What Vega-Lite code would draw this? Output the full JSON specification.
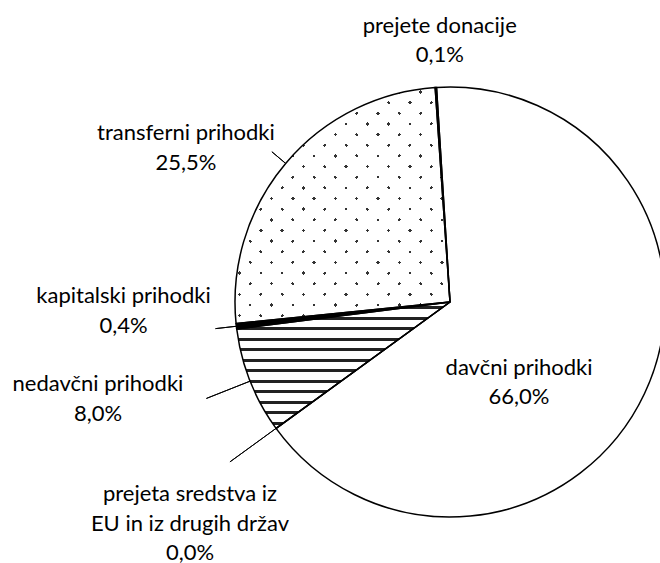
{
  "$schema": "https://vega.github.io/schema/vega-lite/v6.json",
  "width": 900,
  "height": 604,
  "autosize": "none",
  "padding": {"left": 0, "top": 0, "right": -240, "bottom": -41},
  "background": "white",
  "config": {"view": {"stroke": null}},
  "data": {
    "values": [
      {"cat": "davčni prihodki", "pct": 66.0, "o": 1},
      {"cat": "prejeta sredstva iz\nEU in iz drugih držav", "pct": 0.0, "o": 2},
      {"cat": "nedavčni prihodki", "pct": 8.0, "o": 3},
      {"cat": "kapitalski prihodki", "pct": 0.4, "o": 4},
      {"cat": "transferni prihodki", "pct": 25.5, "o": 5},
      {"cat": "prejete donacije", "pct": 0.1, "o": 6}
    ]
  },
  "transform": [
    {"stack": "pct", "groupby": [], "sort": [{"field": "o", "order": "ascending"}], "as": ["t0", "t1"]},
    {"calculate": "(datum.t0 + datum.t1) / 2", "as": "mid"},
    {"calculate": "datum.cat + '\\n' + replace(format(datum.pct, '.1f'), '.', ',') + '%'", "as": "label"}
  ],
  "layer": [
    {
      "mark": {"type": "arc", "outerRadius": 215, "stroke": null},
      "encoding": {
        "theta": {"field": "t0", "type": "quantitative", "stack": null, "scale": {"domain": [0, 100], "range": [-0.06283, 6.22035]}},
        "theta2": {"field": "t1"},
        "fill": {"condition": {"test": "datum.o == 4 || datum.o == 6", "value": "black"}, "value": "white"}
      }
    },
    {
      "transform": [{"filter": "datum.o == 3"}],
      "mark": {
        "type": "arc", "outerRadius": 215, "stroke": null,
        "fill": {"gradient": "linear", "x1": 0, "y1": 0, "x2": 0, "y2": 1, "stops": [
          {"offset": 0, "color": "white"},
          {"offset": 0.0336, "color": "white"}, {"offset": 0.0336, "color": "#222"}, {"offset": 0.0566, "color": "#222"}, {"offset": 0.0566, "color": "white"},
          {"offset": 0.1167, "color": "white"}, {"offset": 0.1167, "color": "#222"}, {"offset": 0.1397, "color": "#222"}, {"offset": 0.1397, "color": "white"},
          {"offset": 0.1997, "color": "white"}, {"offset": 0.1997, "color": "#222"}, {"offset": 0.2227, "color": "#222"}, {"offset": 0.2227, "color": "white"},
          {"offset": 0.2828, "color": "white"}, {"offset": 0.2828, "color": "#222"}, {"offset": 0.3058, "color": "#222"}, {"offset": 0.3058, "color": "white"},
          {"offset": 0.3659, "color": "white"}, {"offset": 0.3659, "color": "#222"}, {"offset": 0.3889, "color": "#222"}, {"offset": 0.3889, "color": "white"},
          {"offset": 0.4489, "color": "white"}, {"offset": 0.4489, "color": "#222"}, {"offset": 0.4719, "color": "#222"}, {"offset": 0.4719, "color": "white"},
          {"offset": 0.5320, "color": "white"}, {"offset": 0.5320, "color": "#222"}, {"offset": 0.5550, "color": "#222"}, {"offset": 0.5550, "color": "white"},
          {"offset": 0.6151, "color": "white"}, {"offset": 0.6151, "color": "#222"}, {"offset": 0.6381, "color": "#222"}, {"offset": 0.6381, "color": "white"},
          {"offset": 0.6982, "color": "white"}, {"offset": 0.6982, "color": "#222"}, {"offset": 0.7212, "color": "#222"}, {"offset": 0.7212, "color": "white"},
          {"offset": 0.7812, "color": "white"}, {"offset": 0.7812, "color": "#222"}, {"offset": 0.8042, "color": "#222"}, {"offset": 0.8042, "color": "white"},
          {"offset": 0.8643, "color": "white"}, {"offset": 0.8643, "color": "#222"}, {"offset": 0.8873, "color": "#222"}, {"offset": 0.8873, "color": "white"},
          {"offset": 0.9474, "color": "white"}, {"offset": 0.9474, "color": "#222"}, {"offset": 0.9704, "color": "#222"}, {"offset": 0.9704, "color": "white"},
          {"offset": 1, "color": "white"}
        ]}
      },
      "encoding": {
        "theta": {"field": "t0", "type": "quantitative", "stack": null},
        "theta2": {"field": "t1"}
      }
    },
    {
      "transform": [{"filter": "datum.o == 5"}],
      "mark": {
        "type": "arc", "outerRadius": 215, "stroke": null,
        "fill": {"gradient": "linear", "x1": 0, "y1": 0, "x2": 0.9512, "y2": 1.0445, "stops": [
          {"offset": 0, "color": "white"},
          {"offset": 0.0399, "color": "white"}, {"offset": 0.0399, "color": "#333"}, {"offset": 0.0475, "color": "#333"}, {"offset": 0.0475, "color": "white"},
          {"offset": 0.0871, "color": "white"}, {"offset": 0.0871, "color": "#333"}, {"offset": 0.0947, "color": "#333"}, {"offset": 0.0947, "color": "white"},
          {"offset": 0.1343, "color": "white"}, {"offset": 0.1343, "color": "#333"}, {"offset": 0.1419, "color": "#333"}, {"offset": 0.1419, "color": "white"},
          {"offset": 0.1815, "color": "white"}, {"offset": 0.1815, "color": "#333"}, {"offset": 0.1891, "color": "#333"}, {"offset": 0.1891, "color": "white"},
          {"offset": 0.2287, "color": "white"}, {"offset": 0.2287, "color": "#333"}, {"offset": 0.2363, "color": "#333"}, {"offset": 0.2363, "color": "white"},
          {"offset": 0.2759, "color": "white"}, {"offset": 0.2759, "color": "#333"}, {"offset": 0.2835, "color": "#333"}, {"offset": 0.2835, "color": "white"},
          {"offset": 0.3232, "color": "white"}, {"offset": 0.3232, "color": "#333"}, {"offset": 0.3308, "color": "#333"}, {"offset": 0.3308, "color": "white"},
          {"offset": 0.3704, "color": "white"}, {"offset": 0.3704, "color": "#333"}, {"offset": 0.3780, "color": "#333"}, {"offset": 0.3780, "color": "white"},
          {"offset": 0.4176, "color": "white"}, {"offset": 0.4176, "color": "#333"}, {"offset": 0.4252, "color": "#333"}, {"offset": 0.4252, "color": "white"},
          {"offset": 0.4648, "color": "white"}, {"offset": 0.4648, "color": "#333"}, {"offset": 0.4724, "color": "#333"}, {"offset": 0.4724, "color": "white"},
          {"offset": 0.5121, "color": "white"}, {"offset": 0.5121, "color": "#333"}, {"offset": 0.5197, "color": "#333"}, {"offset": 0.5197, "color": "white"},
          {"offset": 0.5593, "color": "white"}, {"offset": 0.5593, "color": "#333"}, {"offset": 0.5669, "color": "#333"}, {"offset": 0.5669, "color": "white"},
          {"offset": 0.6065, "color": "white"}, {"offset": 0.6065, "color": "#333"}, {"offset": 0.6141, "color": "#333"}, {"offset": 0.6141, "color": "white"},
          {"offset": 0.6537, "color": "white"}, {"offset": 0.6537, "color": "#333"}, {"offset": 0.6613, "color": "#333"}, {"offset": 0.6613, "color": "white"},
          {"offset": 0.7010, "color": "white"}, {"offset": 0.7010, "color": "#333"}, {"offset": 0.7086, "color": "#333"}, {"offset": 0.7086, "color": "white"},
          {"offset": 0.7482, "color": "white"}, {"offset": 0.7482, "color": "#333"}, {"offset": 0.7558, "color": "#333"}, {"offset": 0.7558, "color": "white"},
          {"offset": 0.7954, "color": "white"}, {"offset": 0.7954, "color": "#333"}, {"offset": 0.8030, "color": "#333"}, {"offset": 0.8030, "color": "white"},
          {"offset": 0.8426, "color": "white"}, {"offset": 0.8426, "color": "#333"}, {"offset": 0.8502, "color": "#333"}, {"offset": 0.8502, "color": "white"},
          {"offset": 0.8899, "color": "white"}, {"offset": 0.8899, "color": "#333"}, {"offset": 0.8975, "color": "#333"}, {"offset": 0.8975, "color": "white"},
          {"offset": 0.9371, "color": "white"}, {"offset": 0.9371, "color": "#333"}, {"offset": 0.9447, "color": "#333"}, {"offset": 0.9447, "color": "white"},
          {"offset": 0.9843, "color": "white"}, {"offset": 0.9843, "color": "#333"}, {"offset": 0.9919, "color": "#333"}, {"offset": 0.9919, "color": "white"},
          {"offset": 1, "color": "white"}
        ]}
      },
      "encoding": {
        "theta": {"field": "t0", "type": "quantitative", "stack": null},
        "theta2": {"field": "t1"}
      }
    },
    {
      "transform": [{"filter": "datum.o == 5"}],
      "mark": {
        "type": "arc", "outerRadius": 215, "stroke": null,
        "fill": {"gradient": "linear", "x1": 0, "y1": 1, "x2": 0.9512, "y2": -0.0445, "stops": [
          {"offset": 0, "color": "white"},
          {"offset": 0.0239, "color": "white"}, {"offset": 0.0239, "color": "rgba(255,255,255,0)"}, {"offset": 0.0315, "color": "rgba(255,255,255,0)"}, {"offset": 0.0315, "color": "white"},
          {"offset": 0.0711, "color": "white"}, {"offset": 0.0711, "color": "rgba(255,255,255,0)"}, {"offset": 0.0787, "color": "rgba(255,255,255,0)"}, {"offset": 0.0787, "color": "white"},
          {"offset": 0.1183, "color": "white"}, {"offset": 0.1183, "color": "rgba(255,255,255,0)"}, {"offset": 0.1259, "color": "rgba(255,255,255,0)"}, {"offset": 0.1259, "color": "white"},
          {"offset": 0.1655, "color": "white"}, {"offset": 0.1655, "color": "rgba(255,255,255,0)"}, {"offset": 0.1731, "color": "rgba(255,255,255,0)"}, {"offset": 0.1731, "color": "white"},
          {"offset": 0.2128, "color": "white"}, {"offset": 0.2128, "color": "rgba(255,255,255,0)"}, {"offset": 0.2204, "color": "rgba(255,255,255,0)"}, {"offset": 0.2204, "color": "white"},
          {"offset": 0.2600, "color": "white"}, {"offset": 0.2600, "color": "rgba(255,255,255,0)"}, {"offset": 0.2676, "color": "rgba(255,255,255,0)"}, {"offset": 0.2676, "color": "white"},
          {"offset": 0.3072, "color": "white"}, {"offset": 0.3072, "color": "rgba(255,255,255,0)"}, {"offset": 0.3148, "color": "rgba(255,255,255,0)"}, {"offset": 0.3148, "color": "white"},
          {"offset": 0.3544, "color": "white"}, {"offset": 0.3544, "color": "rgba(255,255,255,0)"}, {"offset": 0.3620, "color": "rgba(255,255,255,0)"}, {"offset": 0.3620, "color": "white"},
          {"offset": 0.4017, "color": "white"}, {"offset": 0.4017, "color": "rgba(255,255,255,0)"}, {"offset": 0.4093, "color": "rgba(255,255,255,0)"}, {"offset": 0.4093, "color": "white"},
          {"offset": 0.4489, "color": "white"}, {"offset": 0.4489, "color": "rgba(255,255,255,0)"}, {"offset": 0.4565, "color": "rgba(255,255,255,0)"}, {"offset": 0.4565, "color": "white"},
          {"offset": 0.4961, "color": "white"}, {"offset": 0.4961, "color": "rgba(255,255,255,0)"}, {"offset": 0.5037, "color": "rgba(255,255,255,0)"}, {"offset": 0.5037, "color": "white"},
          {"offset": 0.5433, "color": "white"}, {"offset": 0.5433, "color": "rgba(255,255,255,0)"}, {"offset": 0.5509, "color": "rgba(255,255,255,0)"}, {"offset": 0.5509, "color": "white"},
          {"offset": 0.5905, "color": "white"}, {"offset": 0.5905, "color": "rgba(255,255,255,0)"}, {"offset": 0.5981, "color": "rgba(255,255,255,0)"}, {"offset": 0.5981, "color": "white"},
          {"offset": 0.6378, "color": "white"}, {"offset": 0.6378, "color": "rgba(255,255,255,0)"}, {"offset": 0.6454, "color": "rgba(255,255,255,0)"}, {"offset": 0.6454, "color": "white"},
          {"offset": 0.6850, "color": "white"}, {"offset": 0.6850, "color": "rgba(255,255,255,0)"}, {"offset": 0.6926, "color": "rgba(255,255,255,0)"}, {"offset": 0.6926, "color": "white"},
          {"offset": 0.7322, "color": "white"}, {"offset": 0.7322, "color": "rgba(255,255,255,0)"}, {"offset": 0.7398, "color": "rgba(255,255,255,0)"}, {"offset": 0.7398, "color": "white"},
          {"offset": 0.7794, "color": "white"}, {"offset": 0.7794, "color": "rgba(255,255,255,0)"}, {"offset": 0.7870, "color": "rgba(255,255,255,0)"}, {"offset": 0.7870, "color": "white"},
          {"offset": 0.8267, "color": "white"}, {"offset": 0.8267, "color": "rgba(255,255,255,0)"}, {"offset": 0.8343, "color": "rgba(255,255,255,0)"}, {"offset": 0.8343, "color": "white"},
          {"offset": 0.8739, "color": "white"}, {"offset": 0.8739, "color": "rgba(255,255,255,0)"}, {"offset": 0.8815, "color": "rgba(255,255,255,0)"}, {"offset": 0.8815, "color": "white"},
          {"offset": 0.9211, "color": "white"}, {"offset": 0.9211, "color": "rgba(255,255,255,0)"}, {"offset": 0.9287, "color": "rgba(255,255,255,0)"}, {"offset": 0.9287, "color": "white"},
          {"offset": 0.9683, "color": "white"}, {"offset": 0.9683, "color": "rgba(255,255,255,0)"}, {"offset": 0.9759, "color": "rgba(255,255,255,0)"}, {"offset": 0.9759, "color": "white"},
          {"offset": 1, "color": "white"}
        ]}
      },
      "encoding": {
        "theta": {"field": "t0", "type": "quantitative", "stack": null},
        "theta2": {"field": "t1"}
      }
    },
    {
      "mark": {"type": "arc", "outerRadius": 215, "fill": "transparent", "stroke": "black", "strokeWidth": 1.5, "strokeJoin": "miter"},
      "encoding": {
        "theta": {"field": "t0", "type": "quantitative", "stack": null},
        "theta2": {"field": "t1"}
      }
    },
    {
      "transform": [{"filter": "datum.o == 5"}],
      "mark": {"type": "arc", "innerRadius": 215, "outerRadius": 233, "fill": "transparent", "stroke": "black", "strokeWidth": 1},
      "encoding": {"theta": {"field": "mid", "type": "quantitative", "stack": null}, "theta2": {"field": "mid"}}
    },
    {
      "transform": [{"filter": "datum.o == 4"}],
      "mark": {"type": "arc", "innerRadius": 215, "outerRadius": 236, "fill": "transparent", "stroke": "black", "strokeWidth": 1},
      "encoding": {"theta": {"field": "mid", "type": "quantitative", "stack": null}, "theta2": {"field": "mid"}}
    },
    {
      "transform": [{"filter": "datum.o == 3"}],
      "mark": {"type": "arc", "innerRadius": 215, "outerRadius": 262, "fill": "transparent", "stroke": "black", "strokeWidth": 1},
      "encoding": {"theta": {"field": "mid", "type": "quantitative", "stack": null}, "theta2": {"field": "mid"}}
    },
    {
      "transform": [{"filter": "datum.o == 2"}],
      "mark": {"type": "arc", "innerRadius": 215, "outerRadius": 272, "fill": "transparent", "stroke": "black", "strokeWidth": 1},
      "encoding": {"theta": {"field": "mid", "type": "quantitative", "stack": null}, "theta2": {"field": "mid"}}
    },
    {
      "transform": [{"filter": "datum.o == 1"}],
      "mark": {"type": "text", "radius": 110, "dx": -30.5, "dy": 19, "align": "center", "baseline": "middle", "lineBreak": "\n", "lineHeight": 29.5, "font": "Lato", "fontSize": 22, "fill": "black"},
      "encoding": {"theta": {"field": "mid", "type": "quantitative", "stack": null}, "text": {"field": "label"}}
    },
    {
      "transform": [{"filter": "datum.o == 2"}],
      "mark": {"type": "text", "radius": 260, "dx": -49.7, "dy": 39.5, "align": "center", "baseline": "middle", "lineBreak": "\n", "lineHeight": 29.2, "font": "Lato", "fontSize": 22, "fill": "black"},
      "encoding": {"theta": {"field": "mid", "type": "quantitative", "stack": null}, "text": {"field": "label"}}
    },
    {
      "transform": [{"filter": "datum.o == 3"}],
      "mark": {"type": "text", "radius": 250, "dx": -119.6, "dy": -9.75, "align": "center", "baseline": "middle", "lineBreak": "\n", "lineHeight": 29.5, "font": "Lato", "fontSize": 22, "fill": "black"},
      "encoding": {"theta": {"field": "mid", "type": "quantitative", "stack": null}, "text": {"field": "label"}}
    },
    {
      "transform": [{"filter": "datum.o == 4"}],
      "mark": {"type": "text", "radius": 240, "dx": -88, "dy": -32.75, "align": "center", "baseline": "middle", "lineBreak": "\n", "lineHeight": 29.5, "font": "Lato", "fontSize": 22, "fill": "black"},
      "encoding": {"theta": {"field": "mid", "type": "quantitative", "stack": null}, "text": {"field": "label"}}
    },
    {
      "transform": [{"filter": "datum.o == 5"}],
      "mark": {"type": "text", "radius": 240, "dx": -80.6, "dy": -13.95, "align": "center", "baseline": "middle", "lineBreak": "\n", "lineHeight": 29.5, "font": "Lato", "fontSize": 22, "fill": "black"},
      "encoding": {"theta": {"field": "mid", "type": "quantitative", "stack": null}, "text": {"field": "label"}}
    },
    {
      "transform": [{"filter": "datum.o == 6"}],
      "mark": {"type": "text", "radius": 262, "dx": 7, "dy": -14.75, "align": "center", "baseline": "middle", "lineBreak": "\n", "lineHeight": 29.5, "font": "Lato", "fontSize": 22, "fill": "black"},
      "encoding": {"theta": {"field": "mid", "type": "quantitative", "stack": null}, "text": {"field": "label"}}
    }
  ]
}
